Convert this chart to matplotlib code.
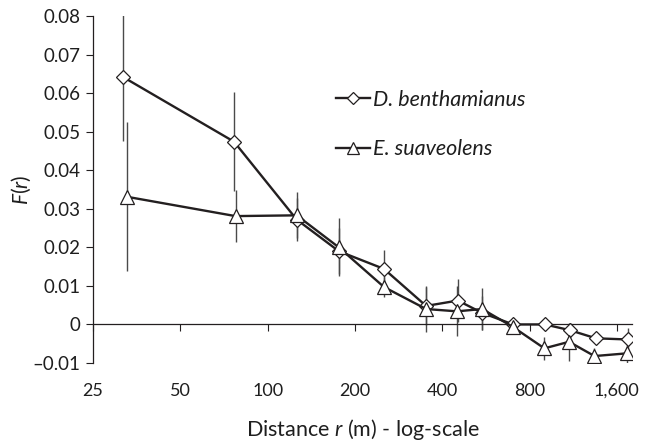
import matplotlib
matplotlib.use("Agg")
import matplotlib.pyplot as plt
import matplotlib.transforms as mtransforms
from matplotlib.ticker import FixedLocator, FixedFormatter, NullLocator, NullFormatter

plt.rcParams['font.family'] = ['Lato', 'DejaVu Sans']
plt.rcParams['mathtext.fontset'] = 'custom'
plt.rcParams['mathtext.rm'] = 'Lato'
plt.rcParams['mathtext.it'] = 'Lato:italic'

# distance classes (m) and kinship coefficients F(r) with error bars
dist_d = [31.7, 76.6, 126, 176, 252, 352, 453, 549, 702, 905, 1103, 1356, 1749]
f_d = [0.0642, 0.0474, 0.0272, 0.0190, 0.0144, 0.0048, 0.0062, 0.0030, 0.0000, 0.0000, -0.0015, -0.0036, -0.0039]
err_d = [0.0165, 0.0128, 0.0055, 0.006, 0.005, 0.005, 0.0055, 0.0045, 0.0015, 0.001, 0.002, 0.0015, 0.003]

dist_e = [32.8, 77.5, 126, 176, 252, 352, 450, 549, 700, 900, 1095, 1340, 1730]
f_e = [0.0331, 0.0281, 0.0283, 0.0200, 0.0097, 0.0040, 0.0034, 0.0040, -0.0006, -0.0062, -0.0045, -0.0082, -0.0075]
err_e = [0.0193, 0.0068, 0.006, 0.0075, 0.0025, 0.006, 0.0065, 0.0055, 0.002, 0.003, 0.005, 0.002, 0.0025]

xticks = [25, 50, 100, 200, 400, 800, 1600]
xticklabels = ['25', '50', '100', '200', '400', '800', '1,600']
yticks = [-0.01, 0, 0.01, 0.02, 0.03, 0.04, 0.05, 0.06, 0.07, 0.08]
yticklabels = ['\u20130.01', '0', '0.01', '0.02', '0.03', '0.04', '0.05', '0.06', '0.07', '0.08']

ink = '#231f20'
txt = '#1e1e1e'

fig = plt.figure(figsize=(6.45, 4.41), dpi=100)
ax = fig.add_axes([93/645, 78/441, 539/645, 347/441])
ax.set_xscale('log')
ax.set_xlim(25, 1805)
ax.set_ylim(-0.01, 0.08)

ax.errorbar(dist_d, f_d, yerr=err_d, fmt='none', ecolor='#4a4a4a', elinewidth=1.0, zorder=1)
ax.errorbar(dist_e, f_e, yerr=err_e, fmt='none', ecolor='#4a4a4a', elinewidth=1.0, zorder=1)
l1, = ax.plot(dist_d, f_d, color=ink, lw=1.7, marker='D', ms=7.5, mfc='white', mec=ink, mew=0.9, zorder=3)
l2, = ax.plot(dist_e, f_e, color=ink, lw=1.7, marker='^', ms=10, mfc='white', mec=ink, mew=0.9, zorder=4)

ax.xaxis.set_major_locator(FixedLocator(xticks))
ax.xaxis.set_major_formatter(NullFormatter())
ax.xaxis.set_minor_locator(NullLocator())
ax.xaxis.set_minor_formatter(NullFormatter())
ax.yaxis.set_major_locator(FixedLocator(yticks))
ax.yaxis.set_major_formatter(FixedFormatter(yticklabels))

# x tick labels sit at the bottom of the figure, well below the zero axis line
lab_tr = mtransforms.blended_transform_factory(ax.transData, fig.transFigure)
for v, lab in zip(xticks, xticklabels):
    fig.text(v, 1 - 391/441, lab, transform=lab_tr, ha='center', va='center',
             fontsize=13, color=txt, zorder=10)

for s in ['top', 'right']:
    ax.spines[s].set_visible(False)
ax.spines['bottom'].set_position(('data', 0))
for s in ['bottom', 'left']:
    ax.spines[s].set_color(ink)
    ax.spines[s].set_linewidth(0.9)

ax.tick_params(axis='x', direction='out', length=5, width=0.8, color=ink)
ax.tick_params(axis='y', direction='out', length=5, width=0.8, color=ink, pad=4, labelsize=13.5, labelcolor=txt)

ax.set_xlabel('Distance $r$ (m) - log-scale', fontsize=15.5, color=txt)
ax.xaxis.set_label_coords(0.5, -0.155)
ax.set_ylabel('$F$($r$)', fontsize=15, color=txt)
ax.yaxis.set_label_coords(-0.111, 0.5)

leg = ax.legend([l1, l2], ['D. benthamianus', 'E. suaveolens'], loc='upper left',
                bbox_to_anchor=(336/645, 1 - 90/441), bbox_transform=fig.transFigure,
                frameon=False, borderpad=0, borderaxespad=0, handlelength=1.6,
                handletextpad=0.1, labelspacing=1.35, markerscale=0.85,
                prop={'style': 'italic', 'size': 15.5})
for t in leg.get_texts():
    t.set_color(txt)

fig.savefig('out.png', dpi=100)
